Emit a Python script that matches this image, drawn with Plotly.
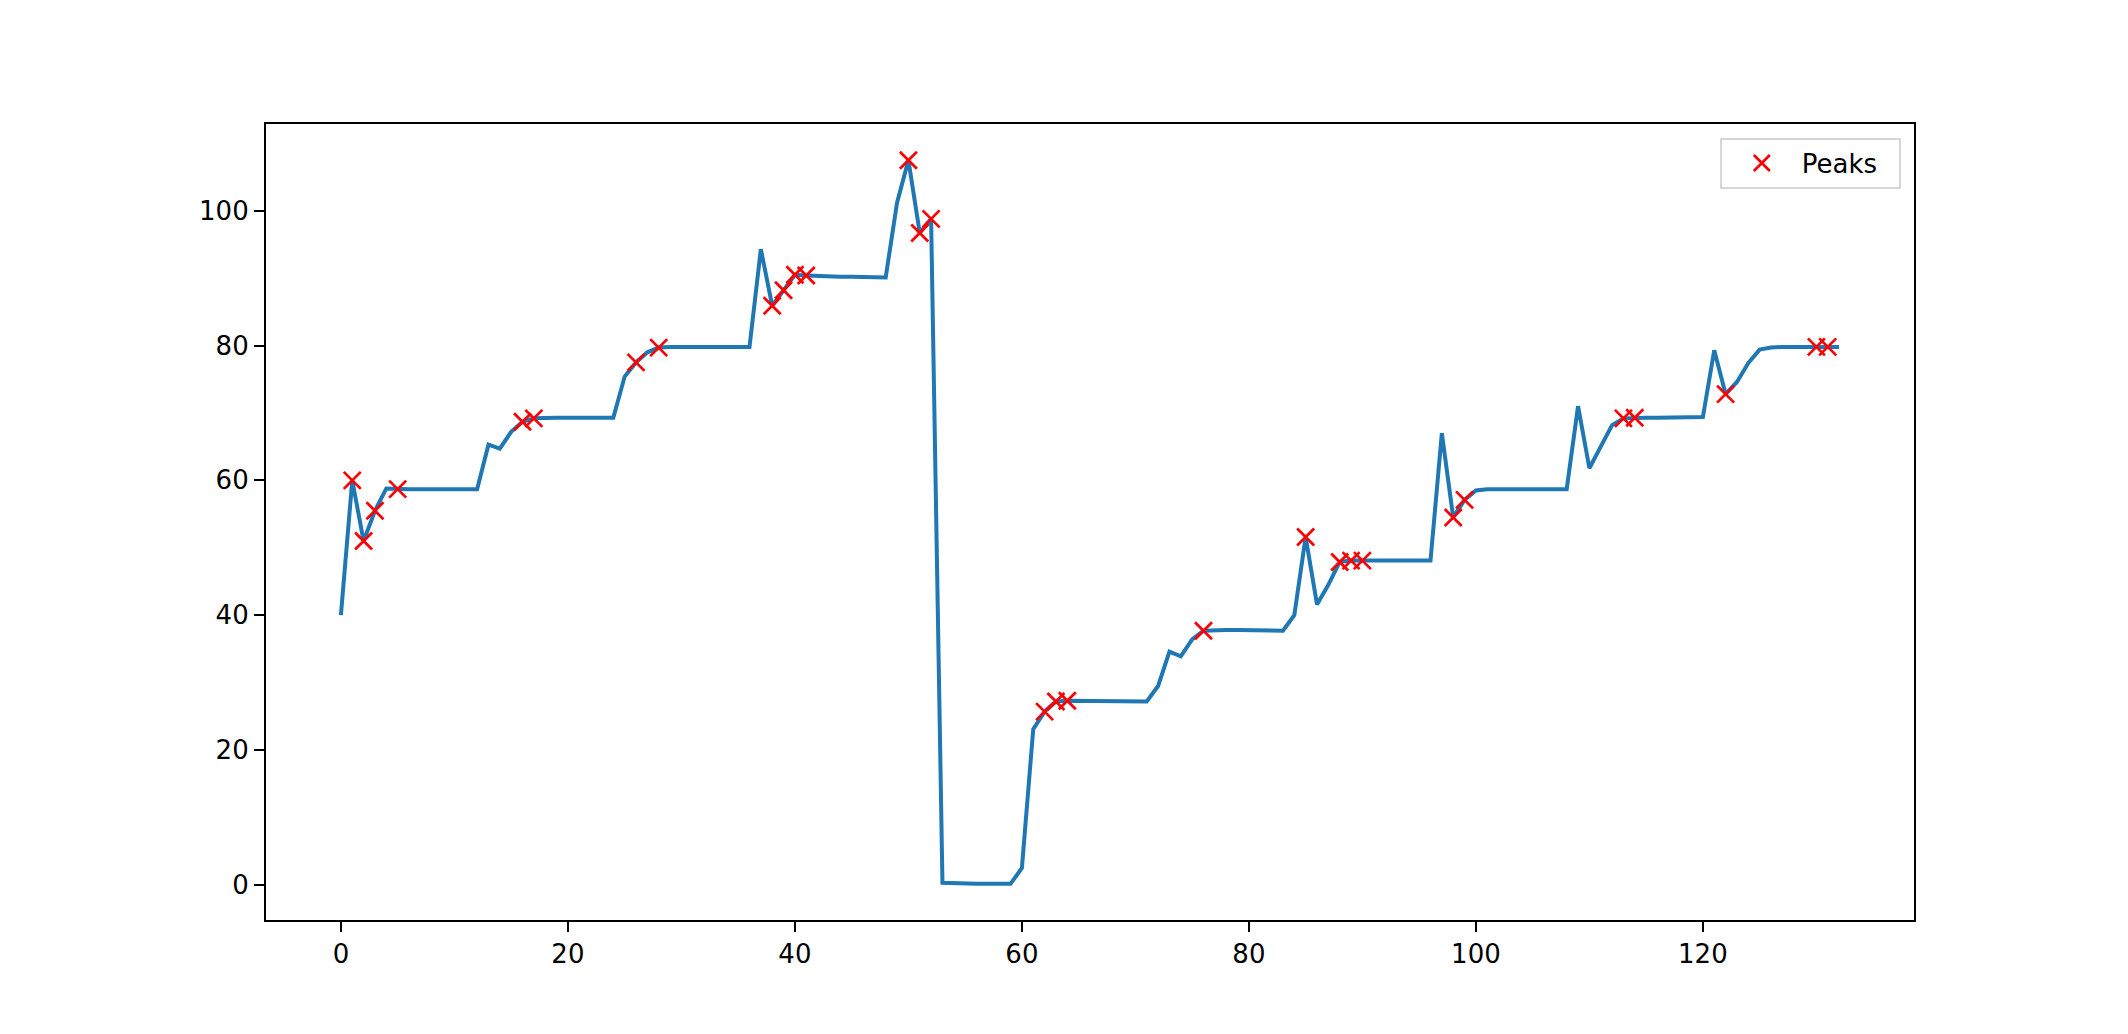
"""
Signal trace with detected peaks, matplotlib-like styling in Plotly.
"""
import plotly.graph_objects as go

# ── Data ──────────────────────────────────────────────────────────────────────
signal = [
    40.0, 60.0, 51.0, 55.5, 58.8, 58.7, 58.7, 58.7, 58.7, 58.7,
    58.7, 58.7, 58.7, 65.3, 64.7, 67.2, 68.7, 69.2, 69.3, 69.3,
    69.3, 69.3, 69.3, 69.3, 69.3, 75.4, 77.5, 79.0, 79.7, 79.8,
    79.8, 79.8, 79.8, 79.8, 79.8, 79.8, 79.8, 94.3, 85.9, 88.2,
    90.5, 90.4, 90.3, 90.3, 90.2, 90.2, 90.2, 90.2, 90.1, 101.2,
    107.5, 96.7, 98.8, 0.3, 0.2, 0.15, 0.15, 0.15, 0.15, 0.15,
    2.5, 23.1, 25.7, 27.2, 27.3, 27.3, 27.3, 27.3, 27.2, 27.2,
    27.2, 27.2, 29.5, 34.6, 33.9, 36.4, 37.7, 37.8, 37.8, 37.8,
    37.8, 37.7, 37.7, 37.7, 40.0, 51.6, 41.6, 44.5, 47.9, 48.1,
    48.1, 48.1, 48.1, 48.1, 48.1, 48.2, 48.1, 67.0, 54.5, 57.1,
    58.5, 58.7, 58.7, 58.7, 58.8, 58.8, 58.8, 58.8, 58.7, 71.0,
    61.8, 65.0, 68.2, 69.2, 69.3, 69.3, 69.3, 69.3, 69.4, 69.4,
    69.4, 79.3, 72.8, 74.6, 77.4, 79.4, 79.7, 79.8, 79.8, 79.8,
    79.8, 79.8, 79.8,
]
peak_idx = [
    1, 2, 3, 5, 16, 17, 26, 28, 38, 39, 40, 41, 50, 51, 52,
    62, 63, 64, 76, 85, 88, 89, 90, 98, 99, 113, 114, 122, 130, 131,
]
x_ticks = [0, 20, 40, 60, 80, 100, 120]
y_ticks = [0, 20, 40, 60, 80, 100]

# ── Design tokens ─────────────────────────────────────────────────────────────
_LINE = "#1f77b4"
_PEAK = "#ff0000"
_FONT = "DejaVu Sans, Liberation Sans, sans-serif"

x_all = list(range(len(signal)))
x_peaks = peak_idx
y_peaks = [signal[i] for i in peak_idx]

fig = go.Figure()
fig.add_trace(go.Scatter(
    x=x_all, y=signal,
    mode="lines",
    line=dict(color=_LINE, width=4),
    showlegend=False,
    hovertemplate="%{x}: %{y:.1f}<extra></extra>",
))
fig.add_trace(go.Scatter(
    x=x_peaks, y=y_peaks,
    mode="markers",
    name="Peaks  ",
    marker=dict(symbol="x-thin", size=17, line=dict(color=_PEAK, width=2.7), color=_PEAK),
    hovertemplate="peak %{x}: %{y:.1f}<extra></extra>",
))

n = len(signal) - 1
x_pad = n * 0.05
y_lo, y_hi = min(signal), max(signal)
y_pad = (y_hi - y_lo) * 0.05

axis_common = dict(
    showline=True, mirror=True, linecolor="black", linewidth=2.2,
    ticks="outside", ticklen=10, tickwidth=2.2, tickcolor="black",
    showgrid=False, zeroline=False,
    tickfont=dict(family=_FONT, size=26, color="black"),
)

# page body has an 8px margin, so the plot margins are trimmed by that much
fig.update_layout(
    width=2128, height=1034,
    paper_bgcolor="white", plot_bgcolor="white",
    margin=dict(l=258, r=222, t=116, b=122),
    font=dict(family=_FONT, size=26, color="black"),
    xaxis=dict(range=[-x_pad, n + x_pad], tickvals=x_ticks, **axis_common),
    yaxis=dict(range=[y_lo - y_pad, y_hi + y_pad], tickvals=y_ticks, **axis_common),
    legend=dict(
        x=0.992, y=0.983, xanchor="right", yanchor="top",
        itemwidth=70,
        bgcolor="rgba(255,255,255,0.8)", bordercolor="#d6d6d6", borderwidth=2,
        font=dict(family=_FONT, size=26, color="black"),
    ),
)

fig.write_html("out.html")
